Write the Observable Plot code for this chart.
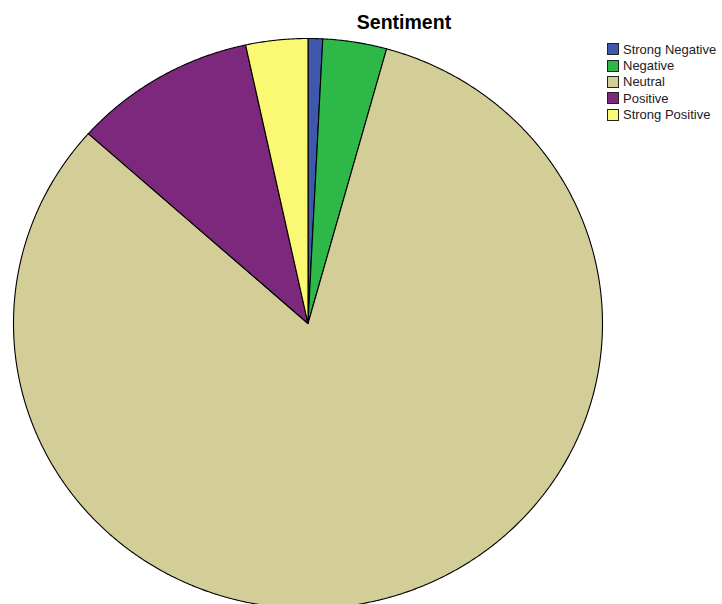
<!DOCTYPE html>
<html>
<head>
<meta charset="utf-8">
<script src="https://cdn.jsdelivr.net/npm/d3@7"></script>
<script src="https://cdn.jsdelivr.net/npm/@observablehq/plot@0.6"></script>
<style>
  html, body { margin: 0; padding: 0; background: #fff; }
  #wrap { position: relative; width: 722px; height: 604px; overflow: hidden; font-family: "Liberation Sans", Arial, sans-serif; }
  #title { position: absolute; left: 304px; width: 200px; top: 11px; text-align: center; font-weight: bold; font-size: 19.5px; color: #000; }
  #legend { position: absolute; left: 607px; top: 41px; font-size: 13px; color: #222; }
  .item { display: flex; align-items: center; height: 16.4px; white-space: nowrap; }
  .sw { width: 12px; height: 12px; border: 1px solid #222; box-sizing: border-box; margin-right: 4px; }
  svg { position: absolute; left: 0; top: 0; }
</style>
</head>
<body>
<div id="wrap">
  <div id="title">Sentiment</div>
  <div id="legend"></div>
</div>
<script>
const categories = ["Strong Negative", "Negative", "Neutral", "Positive", "Strong Positive"];
const values = [0.8, 3.5, 82.3, 10.0, 3.4];
const colors = ["#3E58AC", "#2EB848", "#D3CE97", "#7C287D", "#FBF873"];

// Build slice polygons (unit circle, clockwise from 12 o'clock) from the values
const total = d3.sum(values);
const rows = [];
let start = 0;
categories.forEach((c, i) => {
  const a0 = start / total * 2 * Math.PI;
  const a1 = (start + values[i]) / total * 2 * Math.PI;
  start += values[i];
  rows.push({cat: c, x: 0, y: 0});
  const n = Math.max(2, Math.ceil((a1 - a0) / 0.005));
  for (let k = 0; k <= n; k++) {
    const a = a0 + (a1 - a0) * k / n;
    rows.push({cat: c, x: Math.sin(a), y: Math.cos(a)});
  }
  rows.push({cat: c, x: 0, y: 0});
});

const chart = Plot.plot({
  width: 722,
  height: 604,
  margin: 0,
  x: {domain: [-1, 1], range: [13, 602], axis: null},
  y: {domain: [-1, 1], range: [608, 38], axis: null},
  color: {domain: categories, range: colors},
  marks: [
    Plot.line(rows, {x: "x", y: "y", z: "cat", fill: "cat", stroke: "#000", strokeWidth: 1.1, curve: "linear"})
  ]
});
document.getElementById("wrap").appendChild(chart);

const legend = document.getElementById("legend");
categories.forEach((c, i) => {
  const it = document.createElement("div");
  it.className = "item";
  const sw = document.createElement("div");
  sw.className = "sw";
  sw.style.background = colors[i];
  const lb = document.createElement("span");
  lb.textContent = c;
  it.appendChild(sw);
  it.appendChild(lb);
  legend.appendChild(it);
});
</script>
</body>
</html>
